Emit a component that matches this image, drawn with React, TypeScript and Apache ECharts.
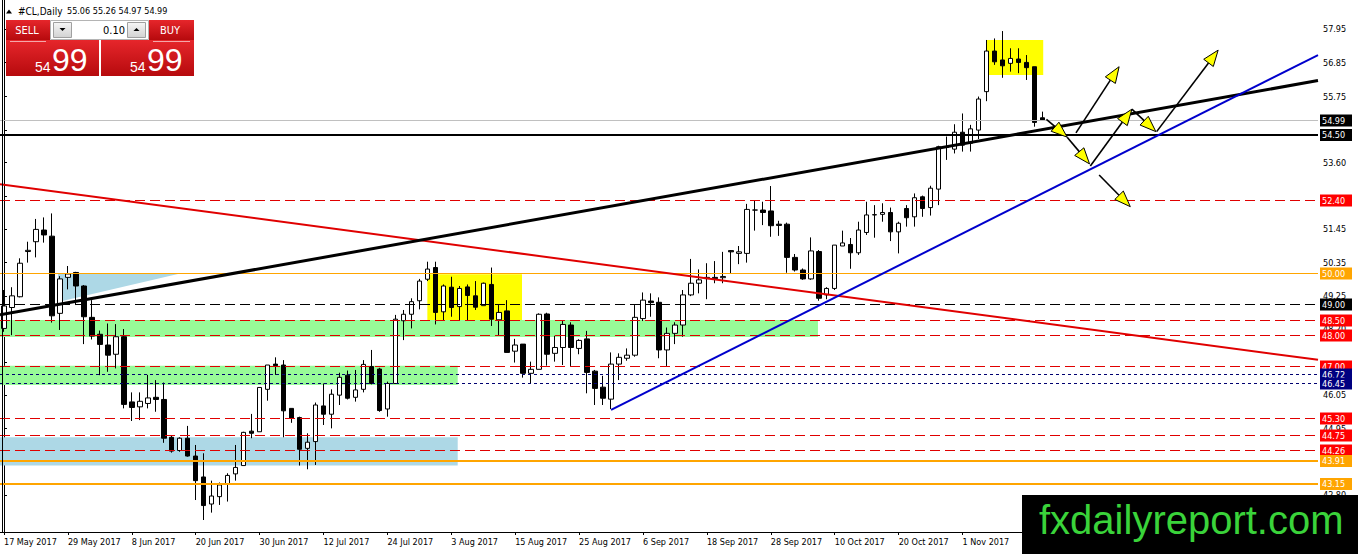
import React, { useEffect, useRef } from "react";
import * as echarts from "echarts";

// ---------- data ----------
const START_DATE = "2017-05-17";
const N_BARS = 131;
const N_SLOTS = 165;
const LABEL_EVERY = 8;
const LAST_VISIBLE_LABEL = 120; // later date labels are hidden under the watermark
const Y_MIN = 41.59;
const Y_MAX = 58.89;

// [open, high, low, close]
const candles: number[][] = [
  [48.21, 49.46, 48.10, 48.94], [48.89, 49.55, 47.99, 49.27], [49.24, 50.49, 49.22, 50.33], [50.71, 51.03, 50.35, 50.75],
  [51.03, 51.77, 50.52, 51.43], [51.41, 51.82, 51.00, 51.25], [51.21, 51.95, 48.40, 48.62], [48.70, 49.91, 48.16, 49.82],
  [49.87, 50.24, 49.48, 49.98], [50.03, 50.05, 48.97, 49.59], [49.59, 49.62, 47.70, 48.59], [48.57, 49.13, 47.85, 47.96],
  [48.02, 48.14, 46.69, 47.69], [47.67, 48.37, 46.80, 47.34], [47.37, 48.35, 46.91, 47.94], [47.94, 48.19, 45.61, 45.74],
  [45.82, 46.13, 45.20, 45.64], [45.66, 46.13, 45.23, 45.84], [45.77, 46.70, 45.61, 45.95], [45.97, 46.53, 45.50, 45.90],
  [45.90, 46.45, 44.49, 44.64], [44.67, 44.74, 44.17, 44.22], [44.24, 44.67, 44.20, 44.64], [44.64, 45.04, 44.04, 44.06],
  [44.06, 44.42, 42.63, 43.26], [43.38, 44.15, 41.98, 42.45], [42.50, 43.26, 42.22, 42.76], [42.74, 43.20, 42.47, 43.12],
  [43.15, 43.50, 42.58, 43.43], [43.48, 44.42, 43.26, 43.69], [43.75, 44.85, 43.75, 44.83], [44.87, 45.43, 44.64, 44.80],
  [44.85, 46.29, 44.85, 46.29], [46.23, 47.02, 45.86, 47.02], [47.05, 47.27, 46.70, 47.00], [47.02, 47.18, 44.67, 45.53],
  [45.61, 45.61, 45.14, 45.29], [45.31, 45.34, 43.75, 44.28], [44.31, 44.80, 43.63, 44.51], [44.53, 45.80, 43.77, 45.72],
  [45.69, 46.42, 45.07, 45.42], [45.42, 46.23, 44.96, 46.07], [46.04, 46.77, 45.72, 46.62], [46.69, 46.84, 45.90, 45.94],
  [45.97, 46.86, 45.83, 46.21], [46.23, 47.18, 46.13, 47.04], [46.97, 47.51, 46.39, 46.42], [46.89, 46.93, 45.50, 45.54],
  [45.59, 46.48, 45.34, 46.42], [46.42, 48.65, 46.42, 48.51], [48.46, 48.81, 47.83, 48.67], [48.67, 49.19, 48.21, 49.08],
  [49.11, 49.82, 48.83, 49.75], [49.81, 50.38, 49.75, 50.14], [50.19, 50.38, 48.34, 48.73], [48.75, 49.64, 48.48, 49.59],
  [49.55, 49.89, 48.59, 48.89], [48.92, 49.59, 48.48, 49.51], [49.56, 49.64, 48.48, 49.28], [49.27, 49.75, 48.81, 48.90],
  [48.95, 49.70, 48.95, 49.68], [49.64, 50.19, 48.29, 48.51], [48.49, 48.97, 47.97, 48.73], [48.78, 49.13, 47.43, 47.43],
  [47.47, 47.87, 47.10, 47.67], [47.70, 47.70, 46.61, 46.75], [46.75, 47.13, 46.42, 46.88], [46.88, 48.70, 46.88, 48.67],
  [48.68, 48.72, 47.00, 47.37], [47.40, 47.97, 47.13, 47.59], [47.59, 48.45, 47.02, 48.34], [48.32, 48.41, 46.99, 47.59],
  [47.56, 47.86, 47.37, 47.82], [47.87, 48.13, 46.10, 46.78], [46.82, 46.86, 45.72, 46.26], [46.30, 46.67, 45.72, 45.94],
  [45.91, 47.43, 45.59, 47.05], [47.05, 47.40, 46.53, 47.27], [47.24, 47.56, 47.16, 47.34], [47.34, 48.97, 47.29, 48.57],
  [48.53, 49.38, 48.45, 49.13], [49.10, 49.35, 48.59, 49.05], [49.06, 49.22, 47.24, 47.51], [47.51, 48.24, 46.99, 48.05],
  [48.05, 48.41, 47.70, 48.32], [48.32, 49.46, 47.94, 49.30], [49.30, 50.47, 49.26, 49.68], [49.68, 50.13, 49.35, 49.79],
  [49.83, 50.33, 49.16, 49.87], [49.87, 50.40, 49.68, 49.83], [49.86, 50.70, 49.68, 49.90], [50.74, 50.75, 50.00, 50.70],
  [50.65, 50.89, 50.30, 50.70], [50.65, 52.26, 50.35, 52.08], [52.06, 52.37, 51.39, 52.06], [52.06, 52.33, 51.57, 51.98],
  [52.03, 52.84, 51.19, 51.55], [51.60, 51.71, 51.22, 51.56], [51.60, 51.65, 50.02, 50.52], [50.52, 50.63, 50.06, 50.11],
  [50.11, 50.16, 49.79, 49.82], [49.82, 51.17, 49.79, 50.73], [50.71, 50.76, 49.11, 49.19], [49.30, 49.55, 49.16, 49.51],
  [49.51, 50.92, 49.46, 50.92], [50.89, 51.39, 50.89, 50.99], [50.94, 51.15, 50.15, 50.67], [50.67, 51.68, 50.60, 51.41],
  [51.33, 52.33, 51.25, 51.90], [51.90, 52.22, 51.16, 51.91], [51.92, 52.28, 51.68, 51.98], [51.98, 52.14, 51.05, 51.35],
  [51.35, 51.68, 50.65, 51.63], [52.11, 52.22, 51.52, 51.81], [51.84, 52.60, 51.52, 52.46], [52.49, 52.53, 51.84, 52.11],
  [52.14, 52.85, 51.88, 52.77], [52.74, 54.15, 52.22, 54.12], [54.12, 54.45, 53.69, 54.10], [54.04, 54.85, 53.90, 54.59],
  [54.59, 55.20, 53.96, 54.17], [54.23, 54.83, 53.96, 54.70], [54.66, 55.75, 54.37, 55.67], [55.91, 57.59, 55.60, 57.23],
  [57.23, 57.64, 56.78, 56.88], [56.94, 57.88, 56.36, 56.75], [56.83, 57.32, 56.56, 56.99], [56.97, 57.32, 56.51, 56.86],
  [56.86, 57.10, 56.29, 56.69], [56.72, 56.72, 54.77, 54.91], [55.06, 55.26, 54.97, 54.99],
];

// price-axis tick marks, and the tick labels that are not hidden under level boxes
const yTicks = [57.95, 56.85, 55.75, 54.65, 53.6, 52.5, 51.45, 50.35, 49.25, 48.2, 47.1, 46.05, 44.95, 43.9, 42.8];
const yTickLabels = [57.95, 56.85, 55.75, 53.6, 51.45, 50.35, 49.25, 48.2, 46.05, 44.95, 42.8];

const bidLevel = [54.99];
const supportLevel = [54.5];
const redLevels = [52.4, 48.5, 48.0, 47.0, 45.3, 44.75, 44.26];
const orangeThinLevels = [50.0];
const orangeLevels = [43.91, 43.15];
const blackDashedLevels = [49.0];
const blueDottedLevels = [46.72, 46.45];

// trend lines: [barIndex, price]
const redTrend = [[-0.5, 52.9], [164.5, 47.19]];
const blackTrend = [[-0.5, 48.65], [164.5, 56.27]];
const blueTrend = [[76.0, 45.56], [164.5, 57.1]];

// zones: [x1, price1, x2, price2]
const yellowZones = [[53.0, 49.97, 64.85, 48.48], [123.0, 57.59, 130.1, 56.45]];
const greenZones = [[-0.5, 48.48, 101.9, 47.93], [-0.5, 47.0, 56.8, 46.37]];
const blueZones = [[-0.5, 44.67, 56.8, 43.75]];
const blueWedge = [[6.76, 49.98], [21.78, 49.98], [6.76, 49.07]];

// arrows: [x1, price1, x2, price2]
const arrows = [
  [130.5, 55.01, 133.1, 54.43],
  [133.1, 54.43, 135.9, 53.56],
  [134.2, 54.57, 139.6, 56.72],
  [136.0, 53.49, 141.2, 55.34],
  [141.2, 55.34, 144.2, 54.61],
  [144.3, 54.61, 152.0, 57.26],
  [137.1, 53.2, 141.0, 52.17],
];

const titleSymbol = "#CL,Daily";
const titleQuote = "55.06 55.26 54.97 54.99";
const lotSize = "0.10";
const bidBig = "54";
const bidSmall = "99";
const watermark = "fxdailyreport.com";

const MONTHS = ["Jan", "Feb", "Mar", "Apr", "May", "Jun", "Jul", "Aug", "Sep", "Oct", "Nov", "Dec"];

function tradingDays(start: string, count: number): string[] {
  const out: string[] = [];
  const d = new Date(start + "T00:00:00Z");
  while (out.length < count) {
    const wd = d.getUTCDay();
    if (wd !== 0 && wd !== 6) out.push(`${d.getUTCDate()} ${MONTHS[d.getUTCMonth()]} ${d.getUTCFullYear()}`);
    d.setUTCDate(d.getUTCDate() + 1);
  }
  return out;
}

const FONT = "'DejaVu Sans Condensed', 'DejaVu Sans', sans-serif";
const ARIAL = "'Liberation Sans', Arial, sans-serif";

function levelSeries(values: number[], stroke: string, width: number, dash: number[] | null, box: string, z: number) {
  return {
    type: "custom",
    xAxisIndex: 1,
    yAxisIndex: 0,
    z,
    silent: true,
    clip: false,
    data: values.map((v) => [0, v]),
    encode: { x: 0, y: 1 },
    renderItem: (params: any, api: any) => {
      const cs = params.coordSys;
      const v = api.value(1);
      const y = Math.round(api.coord([0, v])[1]) + (width % 2 === 1 ? 0.5 : 0);
      const right = cs.x + cs.width;
      return {
        type: "group",
        children: [
          {
            type: "line",
            shape: { x1: cs.x, y1: y, x2: right, y2: y },
            style: { stroke, lineWidth: width, lineDash: dash || undefined },
          },
          {
            type: "rect",
            shape: { x: right + 2, y: y - 6, width: 32, height: 12 },
            style: { fill: box },
          },
          {
            type: "text",
            style: {
              text: v.toFixed(2),
              x: right + 4,
              y: y,
              align: "left",
              textAlign: "left",
              verticalAlign: "middle",
              textVerticalAlign: "middle",
              fill: "#ffffff",
              font: `9px ${FONT}`,
            },
          },
        ],
      };
    },
  };
}

function zoneSeries(zones: number[][], fill: string) {
  return {
    type: "custom",
    xAxisIndex: 1,
    yAxisIndex: 0,
    z: 1,
    silent: true,
    data: zones,
    encode: { x: [0, 2], y: [1, 3] },
    renderItem: (_p: any, api: any) => {
      const a = api.coord([api.value(0), api.value(1)]);
      const b = api.coord([api.value(2), api.value(3)]);
      return {
        type: "rect",
        shape: {
          x: Math.min(a[0], b[0]),
          y: Math.min(a[1], b[1]),
          width: Math.abs(b[0] - a[0]),
          height: Math.abs(b[1] - a[1]),
        },
        style: { fill },
      };
    },
  };
}

function trendSeries(pts: number[][], color: string, width: number) {
  return {
    type: "line",
    xAxisIndex: 1,
    yAxisIndex: 0,
    z: 4,
    silent: true,
    symbol: "none",
    data: pts,
    lineStyle: { color, width },
  };
}

const redGrad = {
  type: "linear", x: 0, y: 0, x2: 0, y2: 1,
  colorStops: [{ offset: 0, color: "#e6262b" }, { offset: 1, color: "#b60a0d" }],
};
const btnGrad = {
  type: "linear", x: 0, y: 0, x2: 0, y2: 1,
  colorStops: [{ offset: 0, color: "#f6f6f6" }, { offset: 1, color: "#d2d2d2" }],
};

export default function App() {
  const ref = useRef<HTMLDivElement>(null);
  useEffect(() => {
    if (!ref.current) return;
    const chart = echarts.init(ref.current, undefined, { renderer: "svg" });
    const days = tradingDays(START_DATE, N_BARS);
    const cats: string[] = [];
    for (let i = 0; i < N_SLOTS; i++) cats.push(i < N_BARS ? days[i] : `f${i}`);
    const showIdx = (i: number) => i % LABEL_EVERY === 0 && i <= LAST_VISIBLE_LABEL;

    const option: any = {
      animation: false,
      backgroundColor: "#ffffff",
      grid: { left: 0, right: 40, top: 0, bottom: 22, containLabel: false },
      xAxis: [
        {
          type: "category",
          data: cats,
          boundaryGap: true,
          axisLine: { show: true, lineStyle: { color: "#000", width: 1 } },
          axisTick: { show: true, interval: (i: number) => showIdx(i), alignWithLabel: true, length: 3, lineStyle: { color: "#000" } },
          axisLabel: {
            interval: (i: number) => showIdx(i),
            align: "left",
            color: "#000",
            fontSize: 9,
            fontFamily: FONT,
            margin: 5,
          },
          splitLine: { show: false },
        },
        { type: "value", min: -0.5, max: N_SLOTS - 0.5, show: false },
      ],
      yAxis: {
        type: "value",
        position: "right",
        min: Y_MIN,
        max: Y_MAX,
        axisLine: { show: true, lineStyle: { color: "#000", width: 1 } },
        axisTick: { show: true, customValues: yTicks, length: 3, lineStyle: { color: "#000" } },
        axisLabel: {
          customValues: yTickLabels,
          formatter: (v: number) => v.toFixed(2),
          color: "#000",
          fontSize: 9,
          fontFamily: FONT,
          margin: 5,
        },
        splitLine: { show: false },
      },
      series: [
        zoneSeries(greenZones, "#98fb98"),
        zoneSeries(blueZones, "#add8e6"),
        zoneSeries(yellowZones, "#ffff00"),
        {
          type: "custom",
          xAxisIndex: 1,
          yAxisIndex: 0,
          z: 1,
          silent: true,
          data: [blueWedge.flat()],
          encode: { x: [0, 2, 4], y: [1, 3, 5] },
          renderItem: (_p: any, api: any) => {
            const pts = [0, 1, 2].map((k) => api.coord([api.value(2 * k), api.value(2 * k + 1)]));
            return { type: "polygon", shape: { points: pts }, style: { fill: "#add8e6" } };
          },
        },
        {
          type: "candlestick",
          xAxisIndex: 0,
          yAxisIndex: 0,
          z: 2,
          silent: true,
          barWidth: 5,
          data: candles.map(([o, h, l, c]) => [o, c, l, h]),
          itemStyle: {
            color: "#ffffff",
            color0: "#000000",
            borderColor: "#000000",
            borderColor0: "#000000",
            borderWidth: 1,
          },
        },
        levelSeries(redLevels, "#e00000", 1, [10, 5], "#ff0000", 3),
        levelSeries(blackDashedLevels, "#000000", 1, [10, 5], "#000000", 3),
        levelSeries(blueDottedLevels, "#000070", 1, [3, 3], "#000080", 3),
        levelSeries(orangeThinLevels, "#ffa500", 1, null, "#ffa500", 3),
        levelSeries(orangeLevels, "#ffa500", 2, null, "#ffa500", 3),
        levelSeries(bidLevel, "#c0c0c0", 1, null, "#000000", 3),
        levelSeries(supportLevel, "#000000", 2, null, "#000000", 3),
        trendSeries(redTrend, "#e00000", 2),
        trendSeries(blackTrend, "#000000", 3),
        trendSeries(blueTrend, "#0000cc", 2),
        {
          type: "custom",
          xAxisIndex: 1,
          yAxisIndex: 0,
          z: 5,
          silent: true,
          clip: false,
          data: arrows,
          encode: { x: [0, 2], y: [1, 3] },
          renderItem: (_p: any, api: any) => {
            const a = api.coord([api.value(0), api.value(1)]);
            const b = api.coord([api.value(2), api.value(3)]);
            const dx = b[0] - a[0];
            const dy = b[1] - a[1];
            const len = Math.hypot(dx, dy) || 1;
            const ux = dx / len;
            const uy = dy / len;
            const L = 16;
            const W = 6;
            const bx = b[0] - ux * L;
            const by = b[1] - uy * L;
            const pts = [
              [b[0], b[1]],
              [bx - uy * W, by + ux * W],
              [bx + uy * W, by - ux * W],
            ];
            return {
              type: "group",
              children: [
                { type: "line", shape: { x1: a[0], y1: a[1], x2: bx, y2: by }, style: { stroke: "#000", lineWidth: 1.6 } },
                { type: "polygon", shape: { points: pts }, style: { fill: "#ffff00", stroke: "#000", lineWidth: 1 } },
              ],
            };
          },
        },
      ],
      graphic: [
        // left window border
        { type: "line", z: 50, shape: { x1: 2.5, y1: 0, x2: 2.5, y2: 532 }, style: { stroke: "#000", lineWidth: 1 } },
        // title
        { type: "polygon", z: 50, shape: { points: [[6, 13.5], [12, 13.5], [9, 9.5]] }, style: { fill: "#000" } },
        { type: "text", z: 50, style: { text: titleSymbol, x: 18, y: 11, font: `10px ${FONT}`, fill: "#000", verticalAlign: "middle", textVerticalAlign: "middle" } },
        { type: "text", z: 50, style: { text: titleQuote, x: 67, y: 11, font: `9px ${FONT}`, fill: "#000", verticalAlign: "middle", textVerticalAlign: "middle" } },
        // trade panel
        { type: "rect", z: 50, shape: { x: 6, y: 20, width: 44, height: 20 }, style: { fill: redGrad } },
        { type: "rect", z: 50, shape: { x: 149, y: 20, width: 45, height: 20 }, style: { fill: redGrad } },
        { type: "rect", z: 50, shape: { x: 6, y: 40, width: 93, height: 36 }, style: { fill: redGrad } },
        { type: "rect", z: 50, shape: { x: 101, y: 40, width: 93, height: 36 }, style: { fill: redGrad } },
        { type: "line", z: 51, shape: { x1: 10, y1: 41.5, x2: 46, y2: 41.5 }, style: { stroke: "rgba(255,255,255,0.6)", lineWidth: 1 } },
        { type: "line", z: 51, shape: { x1: 153, y1: 41.5, x2: 190, y2: 41.5 }, style: { stroke: "rgba(255,255,255,0.6)", lineWidth: 1 } },
        { type: "rect", z: 50, shape: { x: 50.5, y: 20.5, width: 98, height: 19 }, style: { fill: "#ffffff", stroke: "#b4b4b4", lineWidth: 1 } },
        { type: "rect", z: 51, shape: { x: 53.5, y: 22.5, width: 18, height: 15 }, style: { fill: btnGrad, stroke: "#a0a0a0", lineWidth: 1 } },
        { type: "rect", z: 51, shape: { x: 127.5, y: 22.5, width: 18, height: 15 }, style: { fill: btnGrad, stroke: "#a0a0a0", lineWidth: 1 } },
        { type: "polygon", z: 52, shape: { points: [[59.5, 28], [65.5, 28], [62.5, 31]] }, style: { fill: "#000" } },
        { type: "polygon", z: 52, shape: { points: [[133.5, 31], [139.5, 31], [136.5, 28]] }, style: { fill: "#000" } },
        { type: "text", z: 52, style: { text: lotSize, x: 125, y: 30, font: `11px ${FONT}`, fill: "#000", align: "right", textAlign: "right", verticalAlign: "middle", textVerticalAlign: "middle" } },
        { type: "text", z: 52, style: { text: "SELL", x: 27, y: 30, font: `11px ${FONT}`, fill: "#fff", align: "center", textAlign: "center", verticalAlign: "middle", textVerticalAlign: "middle" } },
        { type: "text", z: 52, style: { text: "BUY", x: 170, y: 30, font: `11px ${FONT}`, fill: "#fff", align: "center", textAlign: "center", verticalAlign: "middle", textVerticalAlign: "middle" } },
        { type: "text", z: 52, style: { text: bidBig, x: 35, y: 67, font: `14px ${ARIAL}`, fill: "#fff", verticalAlign: "middle", textVerticalAlign: "middle" } },
        { type: "text", z: 52, style: { text: bidSmall, x: 52, y: 59.5, font: `32px ${ARIAL}`, fill: "#fff", verticalAlign: "middle", textVerticalAlign: "middle" } },
        { type: "text", z: 52, style: { text: bidBig, x: 130, y: 67, font: `14px ${ARIAL}`, fill: "#fff", verticalAlign: "middle", textVerticalAlign: "middle" } },
        { type: "text", z: 52, style: { text: bidSmall, x: 147, y: 59.5, font: `32px ${ARIAL}`, fill: "#fff", verticalAlign: "middle", textVerticalAlign: "middle" } },
        // watermark
        { type: "rect", z: 100, shape: { x: 1022, y: 495, width: 336, height: 59 }, style: { fill: "#000" } },
        { type: "text", z: 101, style: { text: watermark, x: 1039, y: 520, font: `40px ${ARIAL}`, fill: "#3ad33a", verticalAlign: "middle", textVerticalAlign: "middle" } },
      ],
    };
    chart.setOption(option);
    return () => chart.dispose();
  }, []);
  return <div ref={ref} style={{ position: "fixed", left: 0, top: 0, width: 1358, height: 554 }} />;
}
